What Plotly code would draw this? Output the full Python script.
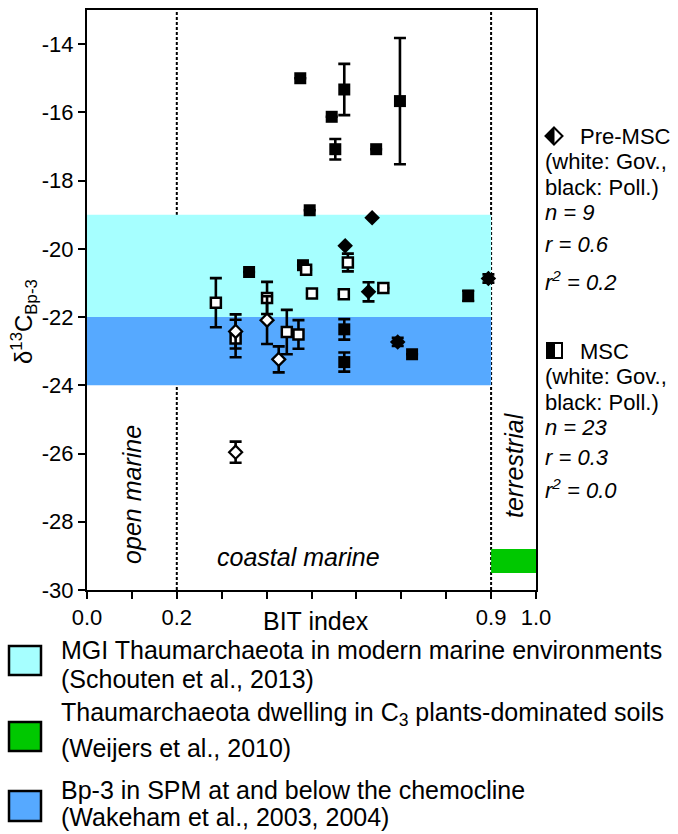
import plotly.graph_objects as go

# ---------------- data ----------------
# MSC, polluted (black squares)
msc_poll_bit = [0.475, 0.573, 0.545, 0.553, 0.644, 0.697, 0.496, 0.481, 0.361, 0.849, 0.573, 0.724, 0.573]
msc_poll_d13c = [-15.00, -15.33, -16.13, -17.08, -17.08, -15.67, -18.87, -20.48, -20.68, -21.38, -22.36, -23.09, -23.32]
msc_poll_err = [0, 0.75, 0, 0.30, 0, 1.85, 0, 0, 0, 0.15, 0.30, 0, 0.28]

# MSC, Gov. (white squares)
msc_gov_bit = [0.488, 0.581, 0.287, 0.401, 0.501, 0.572, 0.660, 0.331, 0.445, 0.471]
msc_gov_d13c = [-20.61, -20.40, -21.58, -21.44, -21.31, -21.33, -21.15, -22.63, -22.44, -22.51]
msc_gov_err = [0, 0.26, 0.72, 0.47, 0, 0, 0, 0.55, 0.65, 0.42]

# Pre-MSC, polluted (black diamonds)
pre_poll_bit = [0.635, 0.575, 0.627, 0.894, 0.692]
pre_poll_d13c = [-19.09, -19.91, -21.26, -20.87, -22.73]
pre_poll_err = [0, 0, 0.28, 0.12, 0.12]

# Pre-MSC, Gov. (white diamonds)
pre_gov_bit = [0.331, 0.401, 0.427, 0.331]
pre_gov_d13c = [-22.42, -22.09, -23.24, -25.96]
pre_gov_err = [0.50, 0.70, 0.38, 0.31]

# reference ranges
mgi_range = [-22.0, -19.0]        # MGI Thaumarchaeota (cyan)
spm_range = [-24.0, -22.0]        # Bp-3 in SPM (blue)
soil_range = [-29.5, -28.8]       # C3 soils (green)
boundaries = [0.2, 0.9]

x_tickvals = [0.0, 0.1, 0.2, 0.3, 0.4, 0.5, 0.6, 0.7, 0.8, 0.9, 1.0]
x_ticktext = ["0.0", "", "0.2", "", "", "", "", "", "", "0.9", "1.0"]
y_tickvals = [-14, -16, -18, -20, -22, -24, -26, -28, -30]
y_ticktext = ["-14", "-16", "-18", "-20", "-22", "-24", "-26", "-28", "-30"]

CYAN = "#A6FFFF"
BLUE = "#56A9FF"
GREEN = "#00C800"
FONT = "Liberation Sans"

# plot area in pixels: x 87..536, y 10..590
L, R, T, B = 87, 536, 10, 590
W, H = 678, 834


def px(xp):
    return (xp - L) / (R - L)


def py(yp):
    return (B - yp) / (B - T)


fig = go.Figure()

err_style = dict(type="data", color="black", thickness=2.6, width=6)

fig.add_trace(go.Scatter(
    x=msc_poll_bit, y=msc_poll_d13c, mode="markers",
    marker=dict(symbol="square", size=12, color="black", line=dict(width=0)),
    error_y=dict(array=msc_poll_err, **err_style), showlegend=False))
fig.add_trace(go.Scatter(
    x=msc_gov_bit, y=msc_gov_d13c, mode="markers",
    marker=dict(symbol="square", size=10, color="white", line=dict(width=2.5, color="black")),
    error_y=dict(array=msc_gov_err, **err_style), showlegend=False))
fig.add_trace(go.Scatter(
    x=pre_poll_bit, y=pre_poll_d13c, mode="markers",
    marker=dict(symbol="diamond", size=12, color="black", line=dict(width=0)),
    error_y=dict(array=pre_poll_err, **err_style), showlegend=False))
fig.add_trace(go.Scatter(
    x=pre_gov_bit, y=pre_gov_d13c, mode="markers",
    marker=dict(symbol="diamond", size=10, color="white", line=dict(width=2.2, color="black")),
    error_y=dict(array=pre_gov_err, **err_style), showlegend=False))

shapes = []
# bands
shapes.append(dict(type="rect", xref="x", yref="y", x0=0, x1=boundaries[1], y0=mgi_range[0], y1=mgi_range[1],
                   fillcolor=CYAN, line=dict(width=0), layer="below"))
shapes.append(dict(type="rect", xref="x", yref="y", x0=0, x1=boundaries[1], y0=spm_range[0], y1=spm_range[1],
                   fillcolor=BLUE, line=dict(width=0), layer="below"))
shapes.append(dict(type="rect", xref="x", yref="y", x0=boundaries[1], x1=1.0, y0=soil_range[0], y1=soil_range[1],
                   fillcolor=GREEN, line=dict(width=0), layer="below"))
for b in boundaries:
    shapes.append(dict(type="line", xref="x", yref="paper", x0=b, x1=b, y0=0, y1=1,
                       line=dict(color="black", width=2, dash="3px,2px"), layer="below"))

# right legend glyphs (half-filled diamond and square)
cx, cy, r = 554, 136, 8.5
shapes.append(dict(type="path", xref="paper", yref="paper",
                   path=f"M{px(cx)},{py(cy-r)} L{px(cx+r)},{py(cy)} L{px(cx)},{py(cy+r)} L{px(cx-r)},{py(cy)} Z",
                   fillcolor="white", line=dict(color="black", width=2)))
shapes.append(dict(type="path", xref="paper", yref="paper",
                   path=f"M{px(cx)},{py(cy-r)} L{px(cx)},{py(cy+r)} L{px(cx-r)},{py(cy)} Z",
                   fillcolor="black", line=dict(color="black", width=1)))
sx0, sx1, sy0, sy1 = 547, 562, 343, 358
shapes.append(dict(type="rect", xref="paper", yref="paper", x0=px(sx0), x1=px(sx1), y0=py(sy1), y1=py(sy0),
                   fillcolor="white", line=dict(color="black", width=2)))
shapes.append(dict(type="rect", xref="paper", yref="paper", x0=px(sx0), x1=px((sx0 + sx1) / 2), y0=py(sy1), y1=py(sy0),
                   fillcolor="black", line=dict(color="black", width=1)))

# bottom legend boxes
for (y0, y1, col) in [(646, 675, CYAN), (722, 751, GREEN), (791, 821, BLUE)]:
    shapes.append(dict(type="rect", xref="paper", yref="paper", x0=px(9), x1=px(41), y0=py(y1), y1=py(y0),
                       fillcolor=col, line=dict(color="black", width=2.5)))

ann = []
# y-axis title
ann.append(dict(xref="paper", yref="paper", x=px(24), y=py(322), text="δ<sup>13</sup>C<sub>Bp-3</sub>",
                textangle=-90, showarrow=False, xanchor="center", yanchor="middle",
                font=dict(family=FONT, size=24, color="black")))
# x-axis title
ann.append(dict(xref="paper", yref="paper", x=px(316), y=py(621), text="BIT index", showarrow=False,
                xanchor="center", yanchor="middle", font=dict(family=FONT, size=25, color="black")))
# region labels
ann.append(dict(xref="x", yref="paper", x=0.1, y=py(494), text="<i>open marine</i>", textangle=-90,
                showarrow=False, xanchor="center", yanchor="middle", font=dict(family=FONT, size=25, color="black")))
ann.append(dict(xref="paper", yref="paper", x=px(298), y=py(557), text="<i>coastal marine</i>",
                showarrow=False, xanchor="center", yanchor="middle", font=dict(family=FONT, size=25, color="black")))
ann.append(dict(xref="x", yref="paper", x=0.951, y=py(465), text="<i>terrestrial</i>", textangle=-90,
                showarrow=False, xanchor="center", yanchor="middle", font=dict(family=FONT, size=25, color="black")))

# right legend text
rl = [
    (578, 136, "Pre-MSC"),
    (543, 161, "(white: Gov.,"),
    (543, 187, "black: Poll.)"),
    (543, 212, "<i>n = 9</i>"),
    (543, 244, "<i>r = 0.6</i>"),
    (543, 281, "<i>r<sup>2</sup> = 0.2</i>"),
    (578, 351, "MSC"),
    (543, 376, "(white: Gov.,"),
    (543, 402, "black: Poll.)"),
    (543, 427, "<i>n = 23</i>"),
    (543, 457, "<i>r = 0.3</i>"),
    (543, 489, "<i>r<sup>2</sup> = 0.0</i>"),
]
for (xx, yy, t) in rl:
    ann.append(dict(xref="paper", yref="paper", x=px(xx), y=py(yy), text=t, showarrow=False,
                    xanchor="left", yanchor="middle", font=dict(family=FONT, size=22, color="black")))

# bottom legend text
bl = [
    (650, "MGI Thaumarchaeota in modern marine environments"),
    (679, "(Schouten et al., 2013)"),
    (714, "Thaumarchaeota dwelling in C<sub>3</sub> plants-dominated soils"),
    (748, "(Weijers et al., 2010)"),
    (790, "Bp-3 in SPM at and below the chemocline"),
    (817, "(Wakeham et al., 2003, 2004)"),
]
for (yy, t) in bl:
    ann.append(dict(xref="paper", yref="paper", x=px(59), y=py(yy), text=t, showarrow=False,
                    xanchor="left", yanchor="middle", font=dict(family=FONT, size=25, color="black")))

fig.update_layout(
    width=W, height=H,
    margin=dict(l=L, r=W - R, t=T, b=H - B, pad=0),
    paper_bgcolor="white", plot_bgcolor="white",
    shapes=shapes, annotations=ann, showlegend=False,
    font=dict(family=FONT, size=22, color="black"),
)
fig.update_xaxes(range=[0, 1], tickvals=x_tickvals, ticktext=x_ticktext, ticks="outside", ticklen=7,
                 tickwidth=2, tickcolor="black", showline=True, linecolor="black", linewidth=2, mirror=True,
                 showgrid=False, zeroline=False, automargin=False, tickfont=dict(family=FONT, size=22))
fig.update_yaxes(range=[-30, -13], tickvals=y_tickvals, ticktext=y_ticktext, ticks="outside", ticklen=7,
                 tickwidth=2, tickcolor="black", showline=True, linecolor="black", linewidth=2, mirror=True,
                 showgrid=False, zeroline=False, automargin=False, tickfont=dict(family=FONT, size=22))

fig.write_html("out.html")
